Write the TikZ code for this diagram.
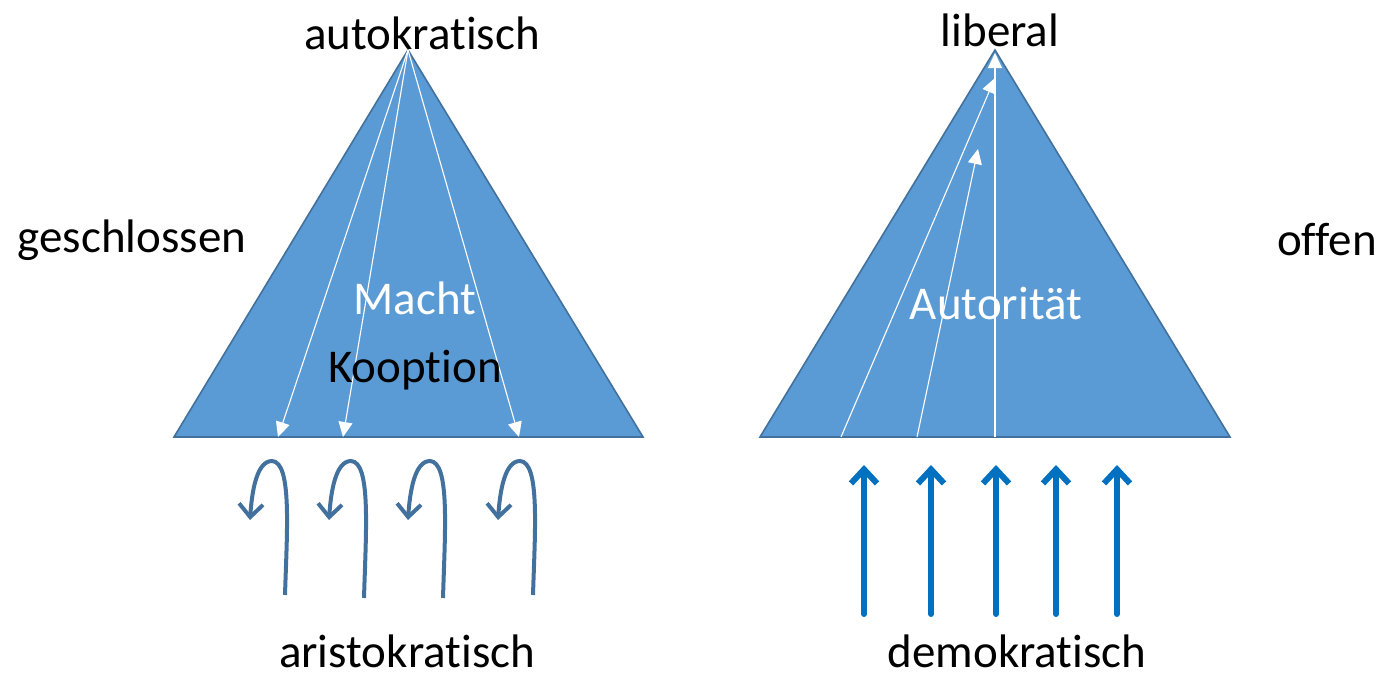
\documentclass[tikz,border=0pt]{standalone}
\usepackage{fontspec}
\setmainfont[Ligatures=NoCommon]{Carlito}
\usetikzlibrary{arrows.meta}
\definecolor{trifill}{HTML}{5B9BD5}
\definecolor{tridraw}{HTML}{41719C}
\definecolor{hookc}{HTML}{41719C}
\definecolor{upc}{HTML}{0070C0}
\tikzset{
  tri/.style={fill=trifill,draw=tridraw,line width=1.6pt,line join=miter},
  wline/.style={white,line width=1.1pt,-{Triangle[length=15pt,width=14pt]}},
  hook/.style={hookc,line width=4pt,-{Straight Barb[length=13pt,width=24pt]}},
  uparrow/.style={upc,line width=6pt,line cap=round,line join=round,-{Straight Barb[length=14pt,width=26pt]}},
  lbl/.style={font=\fontsize{47}{56}\selectfont,inner sep=0pt},
}
\begin{document}
\begin{tikzpicture}[x=1pt,y=-1pt]
\useasboundingbox (0,0) rectangle (1382,675);
% left triangle
\coordinate (LA) at (408,50);
\coordinate (LB1) at (174,437);
\coordinate (LB2) at (643,437);
\draw[tri] (LA) -- (LB1) -- (LB2) -- cycle;
\coordinate (L1) at (278,437);
\coordinate (L2) at (343,437);
\coordinate (L3) at (519,437);
\draw[wline] (LA) -- (L1);
\draw[wline] (LA) -- (L2);
\draw[wline] (LA) -- (L3);
% right triangle
\coordinate (RA) at (995,50);
\coordinate (RB1) at (760,437);
\coordinate (RB2) at (1230,437);
\draw[tri] (RA) -- (RB1) -- (RB2) -- cycle;
\coordinate (R1s) at (841,437);
\coordinate (R1e) at (995,78);
\coordinate (R2s) at (917,437);
\coordinate (R2e) at (978,149);
\coordinate (R3s) at (995,437);
\coordinate (R3e) at (995,53);
\draw[wline] (R1s) -- (R1e);
\draw[wline] (R2s) -- (R2e);
\draw[wline] (R3s) -- (R3e);
% hooks
\foreach \x/\d in {285/0,364/3,443/3,533/0}{
  \draw[hook] (\x,595+\d) .. controls (\x+2,530) and (\x+7,462) .. (\x-13,461)
     .. controls (\x-28,461) and (\x-33,490) .. (\x-35,520);
}
% up arrows
\foreach \x [count=\i] in {864,931,996,1056,1117}{
  \coordinate (ub\i) at (\x,614);
  \coordinate (ut\i) at (\x,465);
  \draw[uparrow] (ub\i) -- (ut\i);
}
% labels
\node[lbl] (auto) at (422,33) {autokratisch};
\node[lbl] (lib) at (1000,30) {liberal};
\node[lbl] (geschl) at (132,240) {geschlossen};
\node[lbl] (offen) at (1327,240) {offen};
\node[lbl,white] (macht) at (415,298) {Macht};
\node[lbl] (koop) at (415,370) {Kooption};
\node[lbl,white] (autor) at (996,303) {Autorität};
\node[lbl,anchor=base] (aristo) at (407,667) {aristokratisch};
\node[lbl,anchor=base] (demo) at (1017,667) {demokratisch};
\end{tikzpicture}
\end{document}
